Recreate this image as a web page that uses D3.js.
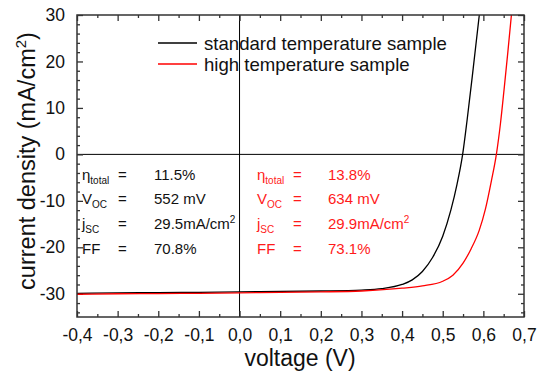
<!DOCTYPE html>
<html><head><meta charset="utf-8">
<script src="https://cdn.jsdelivr.net/npm/d3@7/dist/d3.min.js"></script>
<style>body{margin:0;background:#fff}svg{display:block;font-family:"Liberation Sans",Arial,sans-serif}</style>
</head><body><svg id="c" width="537" height="376"></svg>
<script>
const stdV = [-0.4,-0.3,-0.2,-0.1,0,0.1,0.2,0.3,0.35,0.4,0.425,0.45,0.475,0.5,0.52,0.535,0.549,0.56,0.575,0.59];
const stdJ = [-29.9,-29.8,-29.75,-29.7,-29.6,-29.5,-29.4,-29.2,-28.9,-28.0,-27.0,-25.2,-22.2,-17.6,-12.0,-6.5,0,7.4,18.5,30];
const highV = [-0.4,-0.3,-0.2,-0.1,0,0.1,0.2,0.3,0.4,0.45,0.5,0.525,0.55,0.57,0.59,0.605,0.62,0.632,0.642,0.651,0.66,0.669];
const highJ = [-30.1,-30.0,-29.95,-29.9,-29.8,-29.7,-29.6,-29.4,-28.8,-28.3,-27.3,-26.0,-23.4,-20.3,-16.3,-11.8,-5.6,0,6.6,14.0,21.8,30];
const xTicks = [-0.4,-0.3,-0.2,-0.1,0,0.1,0.2,0.3,0.4,0.5,0.6,0.7];
const xTickLabels = ["-0,4","-0,3","-0,2","-0,1","0,0","0,1","0,2","0,3","0,4","0,5","0,6","0,7"];
const yTicks = [-30,-20,-10,0,10,20,30];
const yTickLabels = ["-30","-20","-10","0","10","20","30"];
const seriesNames = ["standard temperature sample","high temperature sample"];
const statLabels = [["η","total"],["V","OC"],["j","SC"],["FF",""]];
const stdStats = ["11.5%","552 mV","29.5mA/cm","70.8%"];
const highStats = ["13.8%","634 mV","29.9mA/cm","73.1%"];

const svg = d3.select("#c");
const L=77,R=524,T=15,B=317;
const x = d3.scaleLinear().domain([-0.4,0.7]).range([L,R]);
const y = d3.scaleLinear().domain([-35,30]).range([B,T]);
const frameCol="#333";

svg.append("clipPath").attr("id","clip").append("rect").attr("x",L).attr("y",T).attr("width",R-L).attr("height",B-T);

svg.append("line").attr("x1",x(0)).attr("x2",x(0)).attr("y1",T).attr("y2",B).attr("stroke","#000").attr("stroke-width",1);
svg.append("line").attr("x1",L).attr("x2",R).attr("y1",y(0)).attr("y2",y(0)).attr("stroke","#000").attr("stroke-width",1);

const xMinor = d3.range(-0.4,0.7001,0.05).filter(v=>Math.abs(Math.round(v*10)-v*10)>1e-6);
const yMinor = d3.range(-34,30.001,2).filter(v=>Math.abs(v%10)>1e-6);

function styleAxis(g){ g.select(".domain").remove(); g.selectAll("line").attr("stroke",frameCol).attr("stroke-width",1.3); return g; }
function axes(){
  const ga=styleAxis(svg.append("g").attr("transform",`translate(0,${B})`)
    .call(d3.axisBottom(x).tickValues(xTicks).tickFormat((d,i)=>xTickLabels[i]).tickSize(-6).tickPadding(12)));
  ga.selectAll("text").attr("font-size",17.5).attr("fill","#111");
  styleAxis(svg.append("g").attr("transform",`translate(0,${B})`).call(d3.axisBottom(x).tickValues(xMinor).tickFormat("").tickSize(-3)));
  styleAxis(svg.append("g").attr("transform",`translate(0,${T})`).call(d3.axisTop(x).tickValues(xTicks).tickFormat("").tickSize(-6)));
  styleAxis(svg.append("g").attr("transform",`translate(0,${T})`).call(d3.axisTop(x).tickValues(xMinor).tickFormat("").tickSize(-3)));
  const gl=styleAxis(svg.append("g").attr("transform",`translate(${L},0)`)
    .call(d3.axisLeft(y).tickValues(yTicks).tickFormat((d,i)=>yTickLabels[i]).tickSize(-6).tickPadding(12)));
  gl.selectAll("text").attr("font-size",17.5).attr("fill","#111");
  styleAxis(svg.append("g").attr("transform",`translate(${L},0)`).call(d3.axisLeft(y).tickValues(yMinor).tickFormat("").tickSize(-3)));
  styleAxis(svg.append("g").attr("transform",`translate(${R},0)`).call(d3.axisRight(y).tickValues(yTicks).tickFormat("").tickSize(-6)));
  styleAxis(svg.append("g").attr("transform",`translate(${R},0)`).call(d3.axisRight(y).tickValues(yMinor).tickFormat("").tickSize(-3)));
}
axes();

const line=d3.line().x(d=>x(d[0])).y(d=>y(d[1])).curve(d3.curveMonotoneX);
const stdData=stdV.map((v,i)=>[v,stdJ[i]]);
const highData=highV.map((v,i)=>[v,highJ[i]]);
const pg=svg.append("g").attr("clip-path","url(#clip)");
pg.append("path").datum(stdData).attr("d",line).attr("fill","none").attr("stroke","#000").attr("stroke-width",1.3);
pg.append("path").datum(highData).attr("d",line).attr("fill","none").attr("stroke","#ff0000").attr("stroke-width",1.3);

svg.append("rect").attr("x",L).attr("y",T).attr("width",R-L).attr("height",B-T).attr("fill","none").attr("stroke",frameCol).attr("stroke-width",1.5);

const legCols=["#000","#ff0000"];
seriesNames.forEach((n,i)=>{
  const ly=43+i*21;
  svg.append("line").attr("x1",158).attr("x2",197).attr("y1",ly).attr("y2",ly).attr("stroke",legCols[i]).attr("stroke-width",1.3);
  svg.append("text").attr("x",204).attr("y",ly+6.5).attr("font-size",18.6).attr("fill","#111").text(n);
});

const rowsY=[179.5,204,229,253.5];
function statBlock(x0,xEq,xVal,vals,col){
  statLabels.forEach((lab,i)=>{
    const t=svg.append("text").attr("x",x0).attr("y",rowsY[i]).attr("font-size",15).attr("fill",col);
    t.append("tspan").text(lab[0]);
    if(lab[1]) t.append("tspan").attr("dy",4).attr("font-size",10).text(lab[1]);
    svg.append("text").attr("x",xEq).attr("y",rowsY[i]).attr("font-size",15).attr("fill",col).text("=");
    const v=svg.append("text").attr("x",xVal).attr("y",rowsY[i]).attr("font-size",15).attr("fill",col);
    v.append("tspan").text(vals[i]);
    if(i===2) v.append("tspan").attr("dy",-6).attr("font-size",10).text("2");
  });
}
statBlock(82,118,154,stdStats,"#111");
statBlock(257,293,328,highStats,"#ff1a1a");

svg.append("text").attr("x",300).attr("y",366).attr("text-anchor","middle").attr("font-size",23).attr("fill","#111").text("voltage (V)");
const yt=svg.append("text").attr("transform","translate(35,161) rotate(-90)").attr("text-anchor","middle").attr("font-size",23.5).attr("fill","#111");
yt.append("tspan").text("current density (mA/cm");
yt.append("tspan").attr("dy",-9).attr("font-size",15).text("2");
yt.append("tspan").attr("dy",9).text(")");
</script></body></html>
